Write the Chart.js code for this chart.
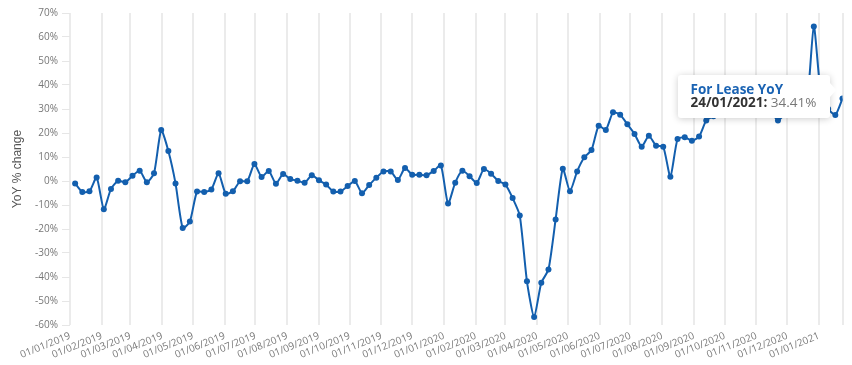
<!DOCTYPE html>
<html>
<head>
<meta charset="utf-8">
<script src="https://cdn.jsdelivr.net/npm/chart.js@4.4.1/dist/chart.umd.min.js"></script>
<style>
  html, body { margin: 0; padding: 0; background: #fff; }
  #wrap { position: relative; width: 852px; height: 365px; }
  #tip {
    position: absolute; background: #fff; border-radius: 3px;
    box-shadow: 0 1px 7px rgba(0,0,0,0.2); padding: 8px 14px 9px 13px;
    font-family: 'Open Sans', sans-serif; font-size: 13.5px; line-height: 13px;
    white-space: nowrap; opacity: 0; pointer-events: none;
  }
  #tip .t { color: #1a63b3; font-weight: 700; }
  #tip .d { color: #333; font-weight: 700; }
  #tip .v { color: #777; }
  #tip:after {
    content: ''; position: absolute; right: -6px; top: 8px;
    border-top: 7px solid transparent; border-bottom: 7px solid transparent;
    border-left: 6px solid #fff;
  }
</style>
</head>
<body>
<div id="wrap">
  <canvas id="chart" width="852" height="365"></canvas>
  <div id="tip"><div class="t"></div><div><span class="d"></span><span class="v"></span></div></div>
</div>
<script>
// weekly dates (Sundays)
const dates = [
  '06/01/2019','13/01/2019','20/01/2019','27/01/2019','03/02/2019','10/02/2019','17/02/2019','24/02/2019',
  '03/03/2019','10/03/2019','17/03/2019','24/03/2019','31/03/2019','07/04/2019','14/04/2019','21/04/2019',
  '28/04/2019','05/05/2019','12/05/2019','19/05/2019','26/05/2019','02/06/2019','09/06/2019','16/06/2019',
  '23/06/2019','30/06/2019','07/07/2019','14/07/2019','21/07/2019','28/07/2019','04/08/2019','11/08/2019',
  '18/08/2019','25/08/2019','01/09/2019','08/09/2019','15/09/2019','22/09/2019','29/09/2019','06/10/2019',
  '13/10/2019','20/10/2019','27/10/2019','03/11/2019','10/11/2019','17/11/2019','24/11/2019','01/12/2019',
  '08/12/2019','15/12/2019','22/12/2019','29/12/2019',
  '05/01/2020','12/01/2020','19/01/2020','26/01/2020','02/02/2020','09/02/2020','16/02/2020','23/02/2020',
  '01/03/2020','08/03/2020','15/03/2020','22/03/2020','29/03/2020','05/04/2020','12/04/2020','19/04/2020',
  '26/04/2020','03/05/2020','10/05/2020','17/05/2020','24/05/2020','31/05/2020','07/06/2020','14/06/2020',
  '21/06/2020','28/06/2020','05/07/2020','12/07/2020','19/07/2020','26/07/2020','02/08/2020','09/08/2020',
  '16/08/2020','23/08/2020','30/08/2020','06/09/2020','13/09/2020','20/09/2020','27/09/2020','04/10/2020',
  '11/10/2020','18/10/2020','25/10/2020','01/11/2020','08/11/2020','15/11/2020','22/11/2020','29/11/2020',
  '06/12/2020','13/12/2020','20/12/2020','27/12/2020',
  '03/01/2021','10/01/2021','17/01/2021','24/01/2021'
];

const forLeaseYoY = [
  -1.0, -4.6, -4.3, 1.5, -11.8, -3.3, 0.1, -0.5,
  2.2, 4.3, -0.5, 3.2, 21.2, 12.5, -1.0, -19.6,
  -16.9, -4.4, -4.6, -3.5, 3.2, -5.3, -4.3, -0.1,
  -0.1, 7.1, 1.7, 4.2, -1.1, 2.9, 0.8, 0.1,
  -0.7, 2.4, 0.3, -1.5, -4.4, -4.4, -2.1, 0.0,
  -5.1, -1.7, 1.4, 4.0, 4.0, 0.4, 5.4, 2.6,
  2.6, 2.4, 4.2, 6.5,
  -9.4, -0.7, 4.3, 2.0, -0.8, 5.0, 3.0, 0.0,
  -1.5, -7.1, -14.4, -41.8, -56.7, -42.4, -36.9, -16.0,
  5.1, -4.3, 4.0, 9.9, 12.9, 23.0, 21.3, 28.6,
  27.6, 23.6, 19.6, 14.3, 18.9, 14.7, 14.3, 1.8,
  17.5, 18.2, 16.8, 18.5, 25.2, 27.0, 28.5, 30.0,
  31.5, 29.5, 32.0, 33.0, 30.5, 29.0, 25.2, 28.0,
  30.5, 29.0, 31.0, 64.4,
  36.0, 30.0, 27.5, 34.41
];

const monthTicks = [
  '01/01/2019','01/02/2019','01/03/2019','01/04/2019','01/05/2019','01/06/2019','01/07/2019',
  '01/08/2019','01/09/2019','01/10/2019','01/11/2019','01/12/2019',
  '01/01/2020','01/02/2020','01/03/2020','01/04/2020','01/05/2020','01/06/2020','01/07/2020',
  '01/08/2020','01/09/2020','01/10/2020','01/11/2020','01/12/2020',
  '01/01/2021'
];

const seriesName = 'For Lease YoY';
const blue = '#135fae';

// days since 01/01/2019
const dayOf = s => {
  const [d, m, y] = s.split('/').map(Number);
  return (Date.UTC(y, m - 1, d) - Date.UTC(2019, 0, 1)) / 86400000;
};
const tickLabel = {};
monthTicks.forEach(t => { tickLabel[dayOf(t)] = t; });
const xMin = dayOf(monthTicks[0]);
const xMax = dayOf(dates[dates.length - 1]);

Chart.defaults.font.family = "'Open Sans', sans-serif";
Chart.defaults.color = '#666';

const chart = new Chart(document.getElementById('chart').getContext('2d'), {
  type: 'line',
  data: {
    datasets: [{
      label: seriesName,
      data: dates.map((d, i) => ({ x: dayOf(d), y: forLeaseYoY[i] })),
      borderColor: blue,
      backgroundColor: blue,
      borderWidth: 2,
      pointRadius: 3,
      pointHoverRadius: 3,
      pointBackgroundColor: blue,
      pointBorderWidth: 0,
      tension: 0.2,
      fill: false
    }]
  },
  options: {
    responsive: false,
    animation: false,
    events: [],
    layout: { padding: { top: 13, right: 4, left: 0, bottom: 0 } },
    plugins: {
      legend: { display: false },
      tooltip: {
        enabled: false,
        external: ({ chart, tooltip }) => {
          const el = document.getElementById('tip');
          if (tooltip.opacity === 0) { el.style.opacity = 0; return; }
          const p = tooltip.dataPoints[0];
          el.querySelector('.t').textContent = p.dataset.label;
          el.querySelector('.d').textContent = dates[p.dataIndex] + ':';
          el.querySelector('.v').textContent = ' ' + forLeaseYoY[p.dataIndex].toFixed(2) + '%';
          el.style.opacity = 1;
          el.style.left = (tooltip.caretX - 12 - el.offsetWidth) + 'px';
          el.style.top = (tooltip.caretY - 23) + 'px';
        }
      }
    },
    scales: {
      x: {
        type: 'linear',
        min: xMin,
        max: xMax,
        afterBuildTicks: scale => {
          scale.ticks = monthTicks.map(t => ({ value: dayOf(t) })).concat([{ value: xMax }]);
        },
        afterFit: scale => { scale.height = 40; },
        grid: { color: '#ebebeb', lineWidth: 2, drawTicks: false },
        border: { display: false },
        ticks: {
          autoSkip: false,
          minRotation: 22,
          maxRotation: 22,
          padding: 5,
          font: { size: 10 },
          color: '#777',
          callback: v => tickLabel[v] || ''
        }
      },
      y: {
        min: -60,
        max: 70,
        afterFit: scale => { scale.width = 70; },
        grid: { drawOnChartArea: false, color: '#e6e6e6', tickLength: 8 },
        border: { display: false },
        ticks: {
          stepSize: 10,
          padding: 4,
          font: { size: 10 },
          color: '#777',
          callback: v => v + '%'
        },
        title: {
          display: true,
          text: 'YoY % change',
          color: '#555',
          font: { size: 12, family: "'Liberation Sans', Arial, sans-serif" },
          padding: { top: 10, bottom: 0 }
        }
      }
    }
  }
});

// show the tooltip on the last point, as in the screenshot
chart.tooltip.setActiveElements([{ datasetIndex: 0, index: dates.length - 1 }], { x: 0, y: 0 });
</script>
</body>
</html>
